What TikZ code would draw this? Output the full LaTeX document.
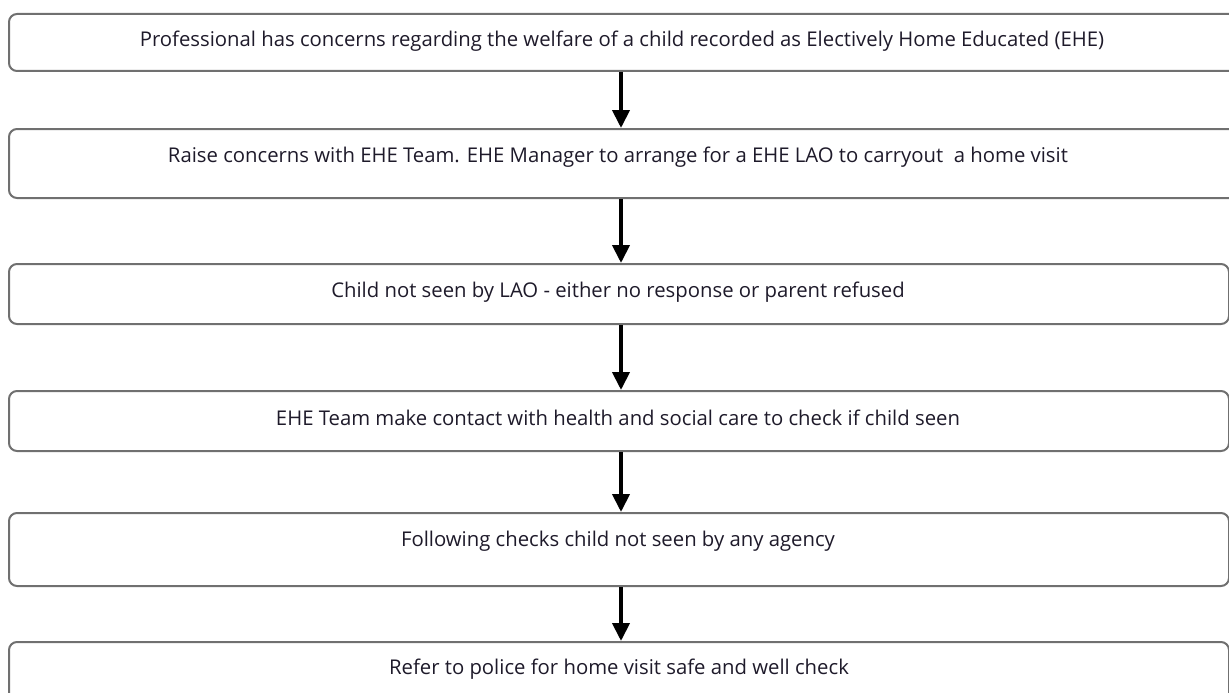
\documentclass[tikz,border=0pt]{standalone}
\usepackage{fontspec}
\setmainfont{Open Sans}
\usetikzlibrary{arrows.meta}
\definecolor{boxgray}{HTML}{707070}
\definecolor{textdark}{HTML}{1E1A2A}
\begin{document}
\begin{tikzpicture}[x=1pt,y=-1pt,
  stepbox/.style={draw=boxgray, line width=2pt, rounded corners=8pt, minimum width=1220pt, anchor=north west, inner sep=0pt},
  txt/.style={font=\fontsize{20.3}{24}\selectfont, text=textdark, anchor=center, inner sep=0pt},
  arr/.style={line width=4pt, -{Triangle[width=17pt,length=18pt]}}]
\useasboundingbox (0,0) rectangle (1229,693);
\node[stepbox, minimum width=1228pt, minimum height=57pt] (b1) at (8,13) {};
\node[stepbox, minimum width=1228pt, minimum height=69pt] (b2) at (8,128) {};
\node[stepbox, minimum height=60pt] (b3) at (8,263) {};
\node[stepbox, minimum height=60pt] (b4) at (8,390) {};
\node[stepbox, minimum height=73pt] (b5) at (8,512) {};
\node[stepbox, minimum height=70pt] (b6) at (8,641) {};
\node[txt] (t1) at ([yshift=-28pt]b1.north -| 622,0) {Professional has concerns regarding the welfare of a child recorded as Electively Home Educated (EHE)};
\node[txt] (t2) at ([yshift=-29pt]b2.north -| 618,0) {Raise concerns with EHE Team. EHE Manager to arrange for a EHE LAO to carryout\ \ a home visit};
\node[txt] (t3) at ([yshift=-29pt]b3.north -| 618,0) {Child not seen by LAO - either no response or parent refused};
\node[txt] (t4) at ([yshift=-28pt]b4.north -| 618,0) {EHE Team make contact with health and social care to check if child seen};
\node[txt] (t5) at ([yshift=-29pt]b5.north -| 618,0) {Following checks child not seen by any agency};
\node[txt] (t6) at ([yshift=-28pt]b6.north -| 619,0) {Refer to police for home visit safe and well check};
\coordinate (ax) at (621,0);
\draw[arr] (b1.south -| ax) -- (b2.north -| ax);
\draw[arr] (b2.south -| ax) -- (b3.north -| ax);
\draw[arr] (b3.south -| ax) -- (b4.north -| ax);
\draw[arr] (b4.south -| ax) -- (b5.north -| ax);
\draw[arr] (b5.south -| ax) -- (b6.north -| ax);
\end{tikzpicture}
\end{document}
